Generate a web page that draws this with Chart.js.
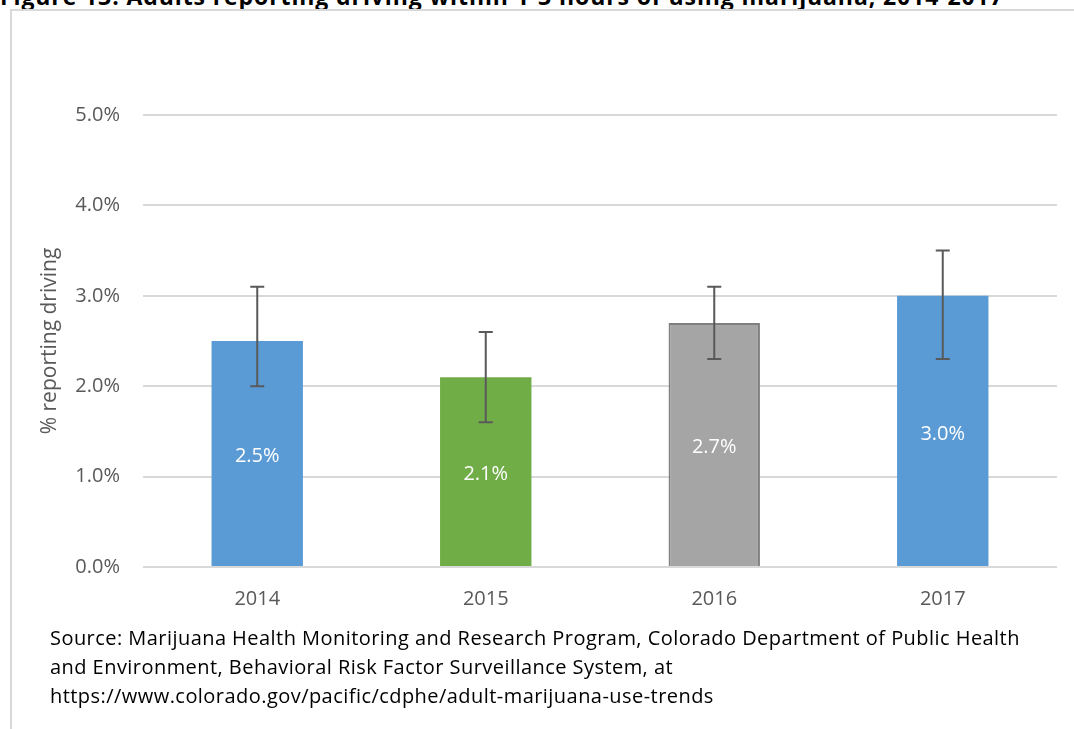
<!DOCTYPE html>
<html>
<head>
<meta charset="utf-8">
<script src="https://cdn.jsdelivr.net/npm/chart.js@4.4.1/dist/chart.umd.min.js"></script>
<style>
  html, body { margin: 0; padding: 0; background: #fff; overflow: hidden; }
  body { width: 1074px; height: 729px; position: relative; font-family: "Open Sans", sans-serif; }
  #title { position: absolute; left: 0; top: -15px; font-size: 23px; line-height: 23px; letter-spacing: 0.9px; font-weight: bold; color: #000; white-space: nowrap; }
  #frame { position: absolute; left: 10px; top: 9px; width: 1100px; height: 800px; border-left: 2px solid #D9D9D9; border-top: 2px solid #D9D9D9; }
  #chart { position: absolute; left: 0; top: 0; }
  #source { position: absolute; left: 50px; top: 623px; font-size: 20px; line-height: 29px; letter-spacing: 0.45px; color: #000; white-space: nowrap; }
</style>
</head>
<body>
<div id="title">Figure 13: Adults reporting driving within 1-3 hours of using marijuana, 2014-2017</div>
<div id="frame"></div>
<canvas id="chart" width="1074" height="729"></canvas>
<div id="source">Source: Marijuana Health Monitoring and Research Program, Colorado Department of Public Health<br>and Environment, Behavioral Risk Factor Surveillance System, at<br>https://www.colorado.gov/pacific/cdphe/adult-marijuana-use-trends</div>
<script>
const years = ['2014', '2015', '2016', '2017'];
const pctDriving = [2.5, 2.1, 2.7, 3.0];
const ciLow = [2.0, 1.6, 2.3, 2.3];
const ciHigh = [3.1, 2.6, 3.1, 3.5];
const barColors = ['#5B9BD5', '#70AD47', '#A5A5A5', '#5B9BD5'];

// error bars drawn from the CI arrays through the y scale
const errorBars = {
  id: 'errorBars',
  afterDatasetsDraw(chart) {
    const ctx = chart.ctx;
    const y = chart.scales.y;
    const meta = chart.getDatasetMeta(0);
    ctx.save();
    ctx.strokeStyle = '#595959';
    ctx.lineWidth = 2;
    meta.data.forEach((bar, i) => {
      const yLo = y.getPixelForValue(ciLow[i]);
      const yHi = y.getPixelForValue(ciHigh[i]);
      ctx.beginPath();
      ctx.moveTo(bar.x, yLo); ctx.lineTo(bar.x, yHi);
      ctx.moveTo(bar.x - 7, yLo); ctx.lineTo(bar.x + 7, yLo);
      ctx.moveTo(bar.x - 7, yHi); ctx.lineTo(bar.x + 7, yHi);
      ctx.stroke();
    });
    ctx.restore();
  }
};

const barLabels = {
  id: 'barLabels',
  afterDatasetsDraw(chart) {
    const ctx = chart.ctx;
    const meta = chart.getDatasetMeta(0);
    ctx.save();
    ctx.fillStyle = '#fff';
    ctx.font = '20px "Open Sans"';
    ctx.textAlign = 'center';
    ctx.textBaseline = 'middle';
    meta.data.forEach((bar, i) => {
      ctx.fillText(pctDriving[i].toFixed(1) + '%', bar.x, (bar.y + bar.base) / 2 + 3);
    });
    ctx.restore();
  }
};

new Chart(document.getElementById('chart').getContext('2d'), {
  type: 'bar',
  data: {
    labels: years,
    datasets: [{
      data: pctDriving,
      backgroundColor: barColors,
      borderColor: ['#5B9BD5', '#70AD47', '#7F7F7F', '#5B9BD5'],
      borderWidth: [0, 0, 2, 0],
      categoryPercentage: 1,
      barPercentage: 0.4
    }]
  },
  options: {
    responsive: false,
    animation: false,
    layout: { padding: { left: 0, right: 17, top: 115, bottom: 0 } },
    plugins: { legend: { display: false }, tooltip: { enabled: false } },
    scales: {
      x: {
        grid: { display: false, drawTicks: false },
        border: { display: false },
        ticks: { color: '#595959', font: { family: 'Open Sans', size: 20 }, padding: 20 },
        afterFit(s) { s.height = 162; }
      },
      y: {
        min: 0, max: 5,
        grid: { color: '#D9D9D9', lineWidth: 2, drawTicks: false },
        border: { display: false },
        ticks: {
          stepSize: 1, color: '#595959', font: { family: 'Open Sans', size: 20 }, padding: 23,
          callback: v => v.toFixed(1) + '%'
        },
        title: {
          display: true, text: '% reporting driving', color: '#595959',
          font: { family: 'Open Sans', size: 21 }, padding: { top: 37, bottom: 0 }
        },
        afterFit(s) { s.width = 143; }
      }
    }
  },
  plugins: [errorBars, barLabels]
});
</script>
</body>
</html>
